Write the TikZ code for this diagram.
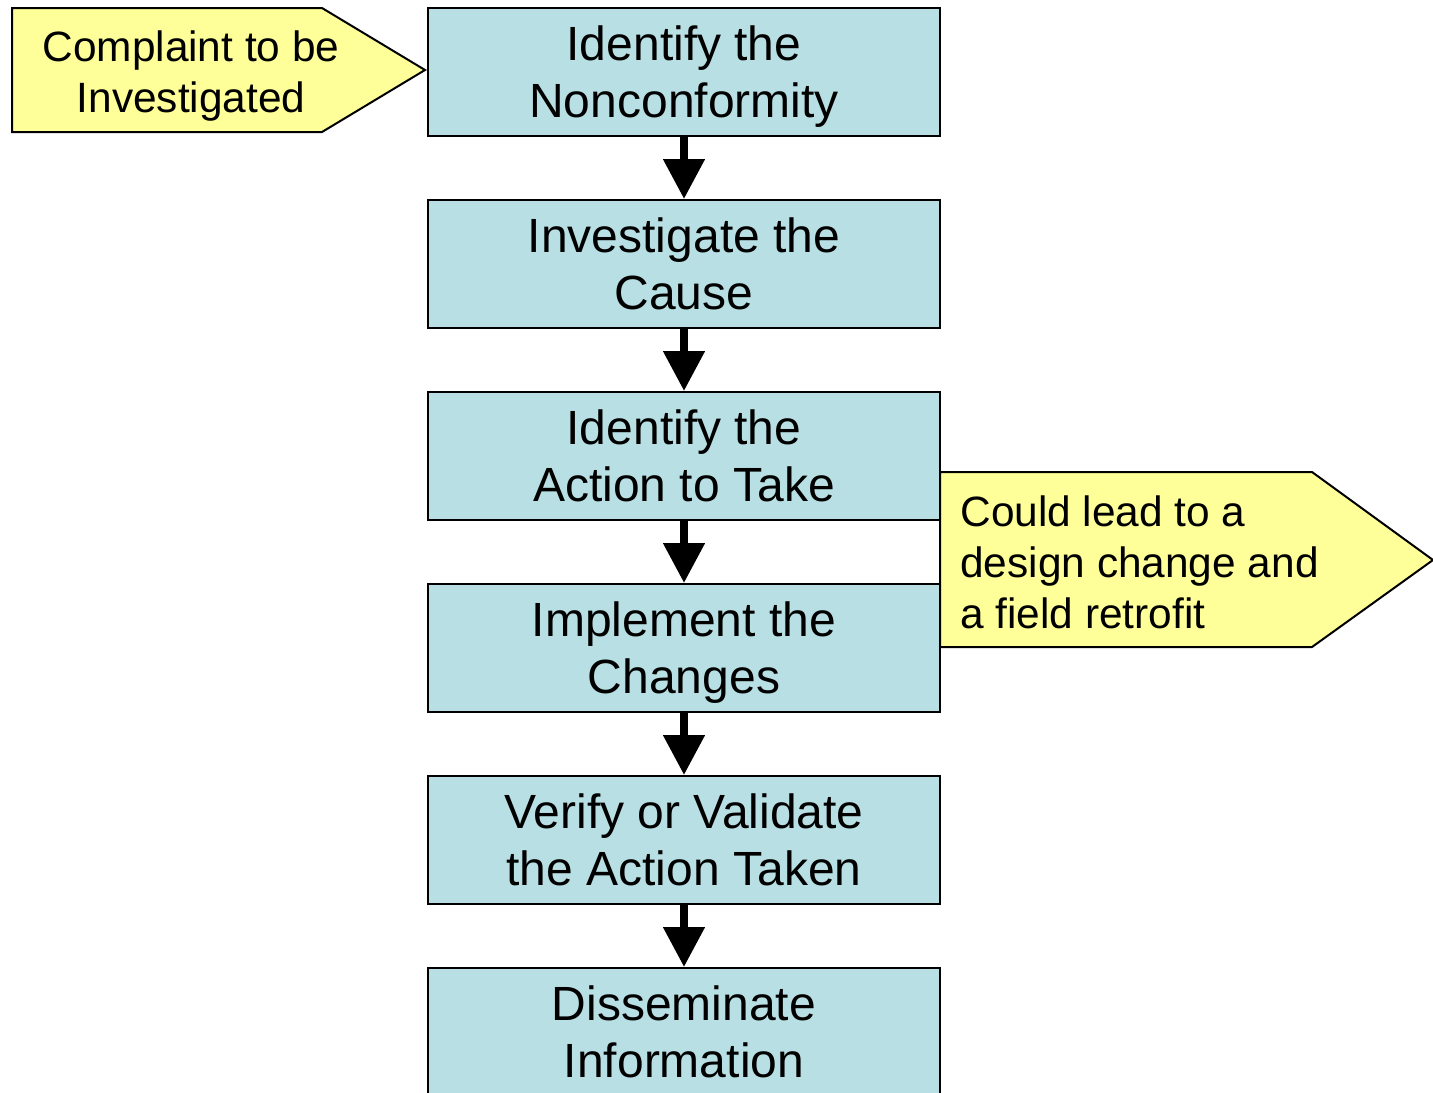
\documentclass[tikz,border=0pt]{standalone}
\usepackage{fontspec}
\setmainfont{Liberation Sans}
\usetikzlibrary{positioning,arrows.meta}
\definecolor{stepblue}{RGB}{184,223,227}
\definecolor{noteyellow}{RGB}{255,255,153}

\begin{document}
\begin{tikzpicture}[x=0.5pt,y=-0.5pt,
    stepbox/.style={draw,line width=1pt,fill=stepblue,minimum width=256pt,minimum height=64pt,
        inner sep=0pt,align=center,text depth=0pt,font=\fontsize{24}{28.5}\selectfont},
    notebox/.style={draw,line width=1pt,fill=noteyellow,line join=miter},
    notetext/.style={inner sep=0pt,font=\fontsize{21.2}{25.5}\selectfont},
    flow/.style={-{Triangle[width=20pt,length=20pt]},line width=4pt},
    node distance=31pt]
\useasboundingbox (0,0) rectangle (1433,1092);

% the steps
\node[stepbox] (identify) at (684,72) {Identify the\\Nonconformity};
\node[stepbox,below=of identify] (investigate) {Investigate the\\Cause};
\node[stepbox,below=of investigate] (action) {Identify the\\Action to Take};
\node[stepbox,below=of action] (implement) {Implement the\\Changes};
\node[stepbox,below=of implement] (verify) {Verify or Validate\\the Action Taken};
\node[stepbox,below=of verify] (disseminate) {Disseminate\\Information};

\draw[flow] (identify) -- (investigate);
\draw[flow] (investigate) -- (action);
\draw[flow] (action) -- (implement);
\draw[flow] (implement) -- (verify);
\draw[flow] (verify) -- (disseminate);

% the two notes
\draw[notebox] (12,8) -- (322,8) -- (425,70) -- (322,132) -- (12,132) -- cycle;
\node[notetext,align=center,text depth=0pt] (complaint) at (191,72) {Complaint to be\\Investigated};

\draw[notebox] (940,472) -- (1312,472) -- (1433,560) -- (1312,647) -- (940,647) -- cycle;
\node[notetext,align=left,anchor=west] (retrofit) at (960,562) {Could lead to a\\design change and\\a field retrofit};
\end{tikzpicture}
\end{document}
